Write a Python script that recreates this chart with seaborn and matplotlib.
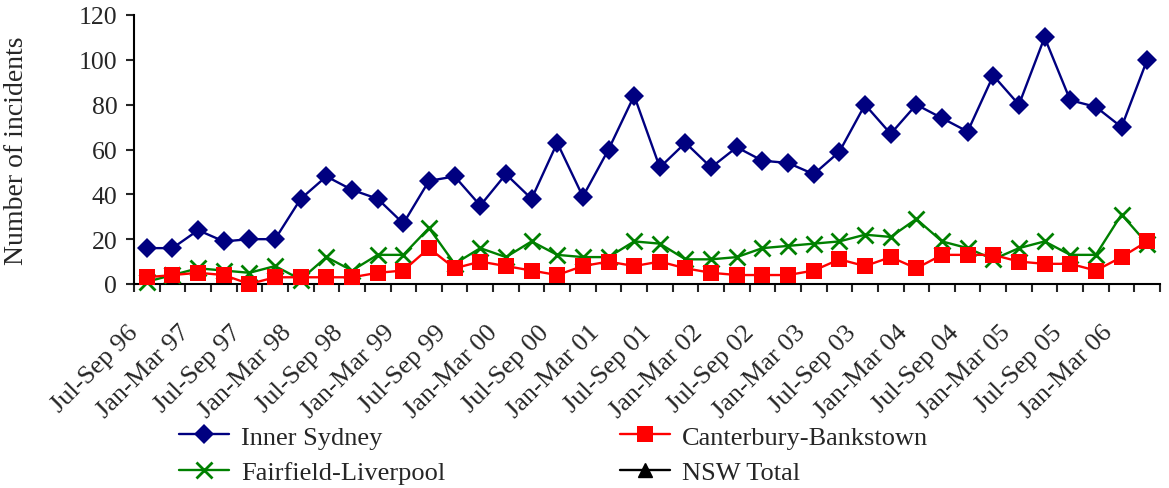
import numpy as np
import pandas as pd
import seaborn as sns
from matplotlib import pyplot as plt
from matplotlib.lines import Line2D
from matplotlib.transforms import ScaledTranslation

# quarters Jul-Sep 96 .. Apr-Jun 06
quarters = ["Jul-Sep 96", "Oct-Dec 96",
            "Jan-Mar 97", "Apr-Jun 97", "Jul-Sep 97", "Oct-Dec 97",
            "Jan-Mar 98", "Apr-Jun 98", "Jul-Sep 98", "Oct-Dec 98",
            "Jan-Mar 99", "Apr-Jun 99", "Jul-Sep 99", "Oct-Dec 99",
            "Jan-Mar 00", "Apr-Jun 00", "Jul-Sep 00", "Oct-Dec 00",
            "Jan-Mar 01", "Apr-Jun 01", "Jul-Sep 01", "Oct-Dec 01",
            "Jan-Mar 02", "Apr-Jun 02", "Jul-Sep 02", "Oct-Dec 02",
            "Jan-Mar 03", "Apr-Jun 03", "Jul-Sep 03", "Oct-Dec 03",
            "Jan-Mar 04", "Apr-Jun 04", "Jul-Sep 04", "Oct-Dec 04",
            "Jan-Mar 05", "Apr-Jun 05", "Jul-Sep 05", "Oct-Dec 05",
            "Jan-Mar 06", "Apr-Jun 06"]

inner_sydney = [16, 16, 24, 19, 20, 20, 38, 48, 42, 38, 27, 46, 48, 35, 49, 38, 63, 39, 60, 84,
                52, 63, 52, 61, 55, 54, 49, 59, 80, 67, 80, 74, 68, 93, 80, 110, 82, 79, 70, 100]
canterbury = [3, 4, 5, 4, 0, 3, 3, 3, 3, 5, 6, 16, 7, 10, 8, 6, 4, 8, 10, 8,
              10, 7, 5, 4, 4, 4, 6, 11, 8, 12, 7, 13, 13, 13, 10, 9, 9, 6, 12, 19]
fairfield = [1, 4, 7, 6, 5, 8, 2, 12, 6, 13, 13, 25, 9, 16, 12, 19, 13, 12, 12, 19,
             18, 11, 11, 12, 16, 17, 18, 19, 22, 21, 29, 19, 16, 11, 16, 19, 13, 13, 31, 18]

series_names = ["Inner Sydney", "Canterbury-Bankstown", "Fairfield-Liverpool", "NSW Total"]

sns.set_theme(style="ticks")
plt.rcParams["font.family"] = ["Liberation Serif", "DejaVu Serif"]

df = pd.DataFrame({
    "pos": np.arange(len(quarters)),
    "quarter": quarters,
    "Inner Sydney": inner_sydney,
    "Canterbury-Bankstown": canterbury,
    "Fairfield-Liverpool": fairfield,
})

fig = plt.figure(figsize=(11.69, 4.89), dpi=100)
ax = fig.add_axes([134 / 1169, 1 - 285 / 489, 1026 / 1169, 269 / 489])

# 各系列样式
styles = {
    "Inner Sydney": dict(color="#000080", marker="D", markersize=10,
                         markeredgewidth=0, markeredgecolor="#000080"),
    "Canterbury-Bankstown": dict(color="#ff0000", marker="s", markersize=11,
                                 markeredgewidth=0, markeredgecolor="#ff0000"),
    "Fairfield-Liverpool": dict(color="#008000", marker="x", markersize=11,
                                markeredgewidth=2, markeredgecolor="#008000"),
}
for name in ["Fairfield-Liverpool", "Canterbury-Bankstown", "Inner Sydney"]:
    sns.lineplot(data=df, x="pos", y=name, ax=ax, linewidth=1.7, clip_on=False,
                 zorder=3, **styles[name])

ax.set_xlim(-0.5, len(quarters) - 0.5)
ax.set_ylim(0, 120)
ax.set_yticks(range(0, 121, 20))
ax.set_xlabel("")
ax.set_ylabel("Number of incidents", fontsize=20, labelpad=36)

# 类别轴: 刻度在边界, 标签隔一个显示
ax.set_xticks(np.arange(-0.5, len(quarters)), minor=True)
ax.set_xticks(np.arange(0, len(quarters), 2))
ax.tick_params(axis="x", which="major", length=0, pad=32)
ax.tick_params(axis="x", which="minor", length=6, width=1.5, direction="out")
ax.tick_params(axis="y", length=6, width=1.5, labelsize=18.5, pad=6)
ax.set_xticklabels(quarters[::2], rotation=45, ha="right", va="center",
                   rotation_mode="anchor", fontsize=19)
shift = ScaledTranslation(-12 / 100, 0, fig.dpi_scale_trans)
for lbl in ax.get_xticklabels():
    lbl.set_transform(lbl.get_transform() + shift)

for s in ["top", "right"]:
    ax.spines[s].set_visible(False)
for s in ["left", "bottom"]:
    ax.spines[s].set_linewidth(1.5)
    ax.spines[s].set_color("black")

handles = [
    Line2D([], [], linewidth=1.7, **styles["Inner Sydney"]),
    Line2D([], [], linewidth=1.7, **styles["Fairfield-Liverpool"]),
    Line2D([], [], linewidth=1.7, **styles["Canterbury-Bankstown"]),
    Line2D([], [], color="black", marker="^", markersize=10, linewidth=1.7),
]
labels = [series_names[0], series_names[2], series_names[1], series_names[3]]
fig.legend(handles, labels, loc="upper left", bbox_to_anchor=(166 / 1169, 1 - 413 / 489),
           ncol=2, frameon=False, fontsize=19, handlelength=1.9, handletextpad=0.45,
           columnspacing=6.6, labelspacing=0.45, borderpad=0)

fig.savefig("out.png", dpi=100)
